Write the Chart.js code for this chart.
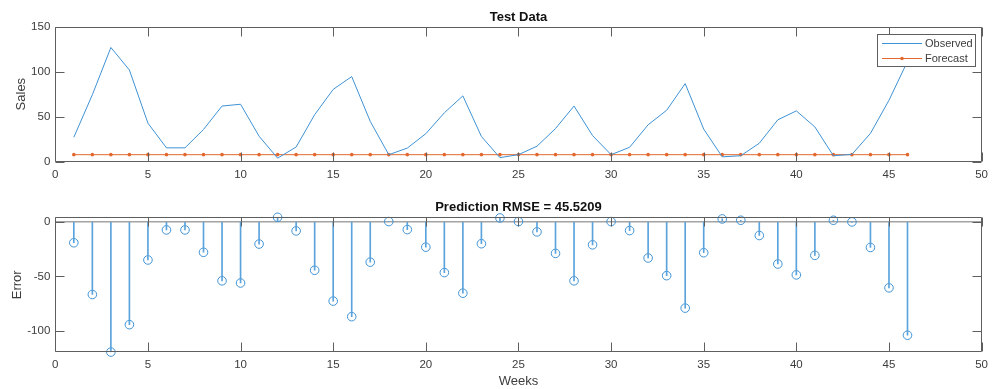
<!DOCTYPE html>
<html>
<head>
<meta charset="utf-8">
<script src="https://cdn.jsdelivr.net/npm/chart.js@4.4.1/dist/chart.umd.min.js"></script>
<style>
  body { margin: 0; background: #ffffff; }
  .painel { position: absolute; left: 0; width: 994px; }
</style>
</head>
<body>
<div class="painel" style="top:0;height:195px"><canvas id="graficoVendas"></canvas></div>
<div class="painel" style="top:195px;height:194px"><canvas id="graficoErro"></canvas></div>
<script>
const weeks = [1, 2, 3, 4, 5, 6, 7, 8, 9, 10, 11, 12, 13, 14, 15, 16, 17, 18, 19, 20, 21, 22, 23,
    24, 25, 26, 27, 28, 29, 30, 31, 32, 33, 34, 35, 36, 37, 38, 39, 40, 41, 42, 43, 44, 45, 46];
const observed = [27.1, 74.3, 126.8, 101.8, 42.8, 15.4, 15.4, 35.8, 61.8, 63.8, 28.3, 3.9, 16.3, 52.2,
    80.3, 94.5, 44.8, 7.8, 15.1, 31.1, 54.3, 73.1, 28.0, 4.5, 7.8, 17.2, 36.8, 61.8, 29.0, 7.8, 16.0,
    41.0, 57.1, 86.7, 36.2, 5.4, 6.6, 20.5, 46.5, 56.4, 38.6, 6.6, 8.1, 31.4, 68.2, 111.4];
const forecast = [7.8, 7.8, 7.8, 7.8, 7.8, 7.8, 7.8, 7.8, 7.8, 7.8, 7.8, 7.8, 7.8, 7.8, 7.8, 7.8,
    7.8, 7.8, 7.8, 7.8, 7.8, 7.8, 7.8, 7.8, 7.8, 7.8, 7.8, 7.8, 7.8, 7.8, 7.8, 7.8, 7.8, 7.8, 7.8,
    7.8, 7.8, 7.8, 7.8, 7.8, 7.8, 7.8, 7.8, 7.8, 7.8, 7.8];
const errors = [-19.3, -66.5, -119.0, -94.0, -35.0, -7.6, -7.6, -28.0, -54.0, -56.0, -20.5, 3.9, -8.5,
    -44.4, -72.5, -86.7, -37.0, 0.0, -7.3, -23.3, -46.5, -65.3, -20.2, 3.3, 0.0, -9.4, -29.0, -54.0,
    -21.2, 0.0, -8.2, -33.2, -49.3, -78.9, -28.4, 2.4, 1.2, -12.7, -38.7, -48.6, -30.8, 1.2, -0.3,
    -23.6, -60.4, -103.6];
const weekTicks = [0, 5, 10, 15, 20, 25, 30, 35, 40, 45, 50];
const salesTicks = [0, 50, 100, 150];
const errorTicks = [-100, -50, 0];
const rmse = '45.5209';

const azul = '#3f92d4';
const azulHaste = '#5aa3dc';
const laranja = '#e3682f';
const cinzaEixo = '#5e5e5e';
const corTexto = '#3c3c3c';
const fonte = "'Liberation Sans', Arial, Helvetica, sans-serif";

// caixa do eixo com marcas para dentro, como no matlab
const caixaEixos = {
    id: 'caixaEixos',
    afterDatasetsDraw(chart) {
        const { ctx, chartArea: a, scales: { x, y } } = chart;
        const esq = Math.round(a.left) + 0.5, dir = Math.round(a.right) - 0.5;
        const topo = Math.round(a.top) + 0.5, base = Math.round(a.bottom) - 0.5;
        ctx.save();
        ctx.strokeStyle = cinzaEixo;
        ctx.lineWidth = 1;
        ctx.beginPath();
        x.ticks.forEach(t => {
            const px = Math.round(x.getPixelForValue(t.value)) + 0.5;
            ctx.moveTo(px, base); ctx.lineTo(px, base - 9);
            ctx.moveTo(px, topo); ctx.lineTo(px, topo + 9);
        });
        y.ticks.forEach(t => {
            const py = Math.round(y.getPixelForValue(t.value)) + 0.5;
            ctx.moveTo(esq, py); ctx.lineTo(esq + 9, py);
            ctx.moveTo(dir, py); ctx.lineTo(dir - 9, py);
        });
        ctx.rect(esq, topo, dir - esq, base - topo);
        ctx.stroke();
        ctx.restore();
    }
};

const legendaCaixa = {
    id: 'legendaCaixa',
    afterDraw(chart) {
        const ctx = chart.ctx;
        const itens = [
            { texto: 'Observed', cor: azul, ponto: false },
            { texto: 'Forecast', cor: laranja, ponto: true }
        ];
        ctx.save();
        ctx.fillStyle = '#ffffff';
        ctx.fillRect(877.5, 34.5, 98, 32);
        ctx.strokeStyle = cinzaEixo;
        ctx.lineWidth = 1;
        ctx.strokeRect(877.5, 34.5, 98, 32);
        ctx.font = '11px ' + fonte;
        ctx.textBaseline = 'middle';
        itens.forEach((item, i) => {
            const yy = 43.5 + i * 15;
            ctx.strokeStyle = item.cor;
            ctx.beginPath();
            ctx.moveTo(882, yy);
            ctx.lineTo(922, yy);
            ctx.stroke();
            if (item.ponto) {
                ctx.fillStyle = item.cor;
                ctx.beginPath();
                ctx.arc(902, yy, 1.8, 0, Math.PI * 2);
                ctx.fill();
            }
            ctx.fillStyle = corTexto;
            ctx.fillText(item.texto, 925, yy + 0.5);
        });
        ctx.restore();
    }
};

function eixoX(alturaEixo, mostrarTitulo) {
    return {
        type: 'linear',
        min: 0,
        max: 50,
        offset: false,
        afterBuildTicks: scale => { scale.ticks = weekTicks.map(v => ({ value: v })); },
        afterFit: scale => { scale.height = alturaEixo; },
        grid: { display: false, drawTicks: false, offset: false },
        border: { display: false },
        ticks: { color: corTexto, font: { family: fonte, size: 11.5 }, padding: 6, maxRotation: 0, autoSkip: false },
        title: { display: mostrarTitulo, text: 'Weeks', color: corTexto, font: { family: fonte, size: 13 }, padding: { top: 0, bottom: 0 } }
    };
}

function eixoY(titulo, min, max, marcas, recuoTitulo, gradeZero) {
    return {
        min: min,
        max: max,
        afterBuildTicks: scale => { scale.ticks = marcas.map(v => ({ value: v })); },
        afterFit: scale => { scale.width = 55.3; },
        grid: gradeZero ? {
            drawTicks: false,
            lineWidth: 1.5,
            color: c => (c.tick && c.tick.value === 0 ? '#a3a3a3' : 'rgba(0,0,0,0)')
        } : { display: false, drawTicks: false },
        border: { display: false },
        ticks: { color: corTexto, font: { family: fonte, size: 11.5 }, padding: 5 },
        title: { display: true, text: titulo, color: corTexto, font: { family: fonte, size: 13 }, padding: { top: recuoTitulo, bottom: 0 } }
    };
}

function titulo(texto, topo, baixo) {
    return {
        display: true,
        text: texto,
        fullSize: false,
        color: '#111111',
        font: { family: fonte, size: 13, weight: 'bold' },
        padding: { top: topo, bottom: baixo }
    };
}

new Chart(document.getElementById('graficoVendas'), {
    type: 'line',
    data: {
        labels: weeks,
        datasets: [{
            label: 'Observed',
            data: weeks.map((w, i) => ({ x: w, y: observed[i] })),
            borderColor: azul,
            borderWidth: 1,
            pointRadius: 0,
            tension: 0
        }, {
            label: 'Forecast',
            data: weeks.map((w, i) => ({ x: w, y: forecast[i] })),
            borderColor: laranja,
            backgroundColor: laranja,
            borderWidth: 1,
            pointRadius: 1.8,
            pointBorderWidth: 0,
            pointBackgroundColor: laranja
        }]
    },
    options: {
        responsive: true,
        maintainAspectRatio: false,
        animation: false,
        layout: { padding: { left: 0, right: 8.3, top: 0, bottom: 0 } },
        plugins: {
            legend: { display: false },
            tooltip: { enabled: false },
            title: titulo('Test Data', 9.5, 1.5)
        },
        scales: {
            x: eixoX(33.3, false),
            y: eixoY('Sales', 0, 150, salesTicks, 14, false)
        }
    },
    plugins: [caixaEixos, legendaCaixa]
});

new Chart(document.getElementById('graficoErro'), {
    type: 'bar',
    data: {
        datasets: [{
            type: 'bar',
            label: 'stems',
            data: weeks.map((w, i) => ({ x: w, y: errors[i] })),
            backgroundColor: azulHaste,
            barThickness: 1
        }, {
            type: 'line',
            label: 'Error',
            data: weeks.map((w, i) => ({ x: w, y: errors[i] })),
            showLine: false,
            pointStyle: 'circle',
            pointRadius: 4.3,
            pointBorderWidth: 1,
            pointBorderColor: azul,
            pointBackgroundColor: 'rgba(0,0,0,0)',
            clip: false
        }]
    },
    options: {
        responsive: true,
        maintainAspectRatio: false,
        animation: false,
        layout: { padding: { left: 0, right: 8.3, top: 0, bottom: 0 } },
        plugins: {
            legend: { display: false },
            tooltip: { enabled: false },
            title: titulo('Prediction RMSE = ' + rmse, 5, 1.7)
        },
        scales: {
            x: eixoX(36.7, true),
            y: eixoY('Error', -119.2, 3.9, errorTicks, 10, true)
        }
    },
    plugins: [caixaEixos]
});
</script>
</body>
</html>
